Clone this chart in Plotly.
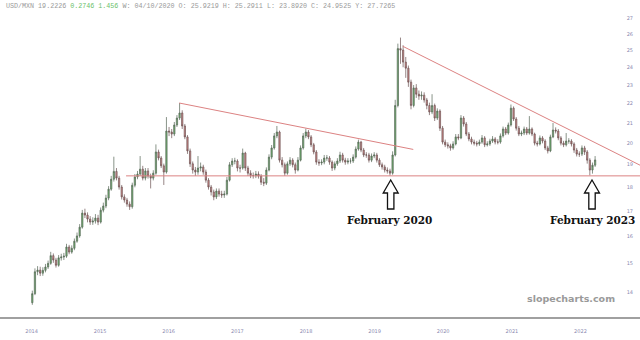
import plotly.graph_objects as go
import pandas as pd
import math

# ---------------- data (bi-weekly USD/MXN candles) -------------
start_date = "2014-01-05"
closes = [13.95, 14.70, 14.76, 14.65, 14.75, 14.87, 15.00, 15.28, 15.12, 14.93,
          15.20, 15.23, 15.26, 15.60, 15.41, 15.55, 15.82, 16.02, 16.36, 16.92,
          16.84, 16.68, 16.56, 16.60, 16.72, 16.56, 17.04, 17.21, 17.54, 17.92,
          18.35, 18.70, 18.40, 18.01, 17.59, 17.46, 17.29, 17.18, 18.09, 18.45,
          18.58, 18.80, 18.40, 18.72, 18.49, 18.40, 18.62, 19.59, 19.31, 18.95,
          18.67, 20.60, 20.55, 20.45, 20.90, 21.25, 21.51, 20.85, 20.31, 19.64,
          19.04, 18.76, 18.67, 18.85, 18.90, 18.67, 18.31, 18.01, 17.80, 17.59,
          17.84, 17.71, 17.67, 17.71, 18.31, 19.00, 19.17, 19.17, 18.85, 18.85,
          19.54, 18.85, 18.62, 18.51, 18.51, 18.58, 18.49, 18.22, 18.18, 18.76,
          19.35, 19.78, 20.36, 20.55, 19.21, 19.00, 18.62, 19.04, 19.21, 19.00,
          18.76, 19.21, 19.78, 20.36, 20.55, 20.31, 19.93, 19.59, 19.12, 19.08,
          19.12, 19.31, 19.31, 19.12, 18.85, 19.04, 19.17, 19.45, 19.21, 19.12,
          19.17, 19.17, 19.35, 19.73, 20.06, 19.68, 19.45, 19.45, 19.21, 19.40,
          19.45, 19.21, 19.00, 18.90, 18.76, 18.72, 18.62, 19.45, 21.90, 25.10,
          25.01, 24.30, 23.95, 23.16, 21.90, 22.84, 22.50, 22.40, 22.45, 22.19,
          21.90, 21.56, 21.90, 21.25, 21.61, 20.74, 20.06, 19.93, 19.88, 19.78,
          19.97, 20.31, 20.26, 21.25, 20.95, 20.45, 20.21, 20.06, 20.01, 19.97,
          20.06, 20.26, 19.93, 19.97, 20.11, 20.21, 20.06, 20.06, 20.36, 20.70,
          20.50, 20.90, 21.76, 21.20, 20.74, 20.45, 20.50, 20.70, 20.50, 20.70,
          20.45, 20.01, 19.97, 20.26, 20.11, 19.78, 19.64, 20.31, 20.65, 20.60,
          20.26, 20.01, 19.93, 20.11, 20.11, 19.97, 19.68, 19.49, 19.49, 19.78,
          19.59, 19.21, 18.76, 18.98, 19.22]
opens = [13.65, 13.95, 14.70, 14.76, 14.65, 14.75, 14.87, 15.00, 15.28, 15.12,
         14.93, 15.20, 15.23, 15.26, 15.60, 15.41, 15.55, 15.82, 16.02, 16.36,
         16.92, 16.84, 16.68, 16.56, 16.60, 16.72, 16.56, 17.04, 17.21, 17.54,
         17.92, 18.35, 18.70, 18.40, 18.01, 17.59, 17.46, 17.29, 17.18, 18.09,
         18.45, 18.58, 18.80, 18.40, 18.72, 18.49, 18.40, 18.62, 19.59, 19.31,
         18.95, 18.67, 20.60, 20.55, 20.45, 20.90, 21.25, 21.51, 20.85, 20.31,
         19.64, 19.04, 18.76, 18.67, 18.85, 18.90, 18.67, 18.31, 18.01, 17.80,
         17.59, 17.84, 17.71, 17.67, 17.71, 18.31, 19.00, 19.17, 19.17, 18.85,
         18.85, 19.54, 18.85, 18.62, 18.51, 18.51, 18.58, 18.49, 18.22, 18.18,
         18.76, 19.35, 19.78, 20.36, 20.55, 19.21, 19.00, 18.62, 19.04, 19.21,
         19.00, 18.76, 19.21, 19.78, 20.36, 20.55, 20.31, 19.93, 19.59, 19.12,
         19.08, 19.12, 19.31, 19.31, 19.12, 18.85, 19.04, 19.17, 19.45, 19.21,
         19.12, 19.17, 19.17, 19.35, 19.73, 20.06, 19.68, 19.45, 19.45, 19.21,
         19.40, 19.45, 19.21, 19.00, 18.90, 18.76, 18.72, 18.62, 19.45, 21.90,
         25.10, 25.01, 24.30, 23.95, 23.16, 21.90, 22.84, 22.50, 22.40, 22.45,
         22.19, 21.90, 21.56, 21.90, 21.25, 21.61, 20.74, 20.06, 19.93, 19.88,
         19.78, 19.97, 20.31, 20.26, 21.25, 20.95, 20.45, 20.21, 20.06, 20.01,
         19.97, 20.06, 20.26, 19.93, 19.97, 20.11, 20.21, 20.06, 20.06, 20.36,
         20.70, 20.50, 20.90, 21.76, 21.20, 20.74, 20.45, 20.50, 20.70, 20.50,
         20.70, 20.45, 20.01, 19.97, 20.26, 20.11, 19.78, 19.64, 20.31, 20.65,
         20.60, 20.26, 20.01, 19.93, 20.11, 20.11, 19.97, 19.68, 19.49, 19.49,
         19.78, 19.59, 19.21, 18.76, 18.98]
highs = [14.05, 14.82, 14.90, 14.88, 14.86, 14.98, 15.10, 15.42, 15.36, 15.20,
         15.30, 15.35, 15.38, 15.72, 15.68, 15.66, 15.92, 16.15, 16.48, 17.05,
         17.10, 16.95, 16.80, 16.75, 16.88, 16.85, 17.15, 17.35, 17.68, 18.05,
         18.50, 19.37, 18.85, 18.50, 18.10, 17.70, 17.55, 17.40, 18.20, 18.58,
         18.72, 19.40, 18.95, 18.85, 18.85, 18.60, 18.75, 19.95, 19.70, 19.40,
         19.05, 21.30, 20.80, 20.70, 21.05, 21.40, 22.03, 21.65, 20.95, 20.40,
         19.75, 19.15, 18.90, 19.40, 19.10, 19.00, 18.78, 18.40, 18.10, 17.90,
         17.95, 17.95, 17.85, 17.85, 18.45, 19.12, 19.30, 19.32, 19.25, 19.00,
         19.75, 19.60, 18.95, 18.75, 18.65, 18.72, 18.70, 18.58, 18.40, 18.88,
         19.48, 19.92, 20.50, 20.85, 20.62, 19.35, 19.10, 19.15, 19.35, 19.30,
         19.10, 19.35, 19.90, 20.50, 20.72, 20.65, 20.40, 20.02, 19.68, 19.25,
         19.25, 19.45, 19.45, 19.40, 19.20, 19.15, 19.30, 19.60, 19.55, 19.32,
         19.30, 19.30, 19.48, 19.85, 20.18, 20.12, 19.78, 19.58, 19.55, 19.52,
         19.58, 19.55, 19.30, 19.10, 19.00, 18.88, 18.82, 19.62, 22.20, 25.40,
         25.77, 25.30, 24.60, 24.10, 23.30, 23.00, 23.05, 22.70, 22.65, 22.60,
         22.30, 22.05, 22.50, 22.00, 21.75, 21.70, 20.85, 20.18, 20.05, 19.98,
         20.10, 20.45, 20.45, 21.40, 21.35, 21.05, 20.55, 20.32, 20.18, 20.12,
         20.18, 20.40, 20.35, 20.10, 20.22, 20.35, 20.30, 20.20, 20.48, 20.82,
         20.80, 21.02, 21.95, 21.85, 21.30, 20.85, 20.62, 20.82, 20.80, 21.35,
         20.78, 20.52, 20.12, 20.38, 20.35, 20.20, 19.88, 20.42, 21.00, 20.78,
         20.70, 20.35, 20.12, 20.50, 20.25, 20.20, 20.05, 19.78, 19.62, 19.90,
         19.88, 19.68, 19.30, 19.10, 19.40]
lows = [13.58, 13.90, 14.58, 14.55, 14.56, 14.68, 14.80, 14.95, 15.02, 14.85,
        14.88, 15.10, 15.12, 15.20, 15.33, 15.35, 15.48, 15.76, 15.95, 16.30,
        16.72, 16.55, 16.45, 16.45, 16.50, 16.44, 16.50, 16.95, 17.12, 17.45,
        17.85, 18.25, 18.30, 17.90, 17.48, 17.35, 17.18, 17.05, 17.10, 18.00,
        18.35, 18.50, 18.30, 18.30, 18.38, 17.95, 18.30, 18.55, 19.20, 18.85,
        18.10, 18.60, 20.35, 20.25, 20.35, 20.80, 21.15, 20.70, 20.20, 19.50,
        18.90, 18.60, 18.50, 18.55, 18.70, 18.55, 18.20, 17.90, 17.65, 17.45,
        17.50, 17.60, 17.55, 17.55, 17.65, 18.25, 18.90, 19.02, 18.70, 18.65,
        18.78, 18.72, 18.50, 18.40, 18.38, 18.40, 18.38, 18.10, 18.05, 18.10,
        18.70, 19.25, 19.70, 20.25, 19.10, 18.88, 18.50, 18.55, 18.95, 18.88,
        18.60, 18.70, 19.15, 19.70, 20.25, 20.20, 19.82, 19.48, 19.00, 18.95,
        18.98, 19.02, 19.18, 19.00, 18.72, 18.75, 18.95, 19.08, 19.10, 19.00,
        19.02, 19.05, 19.08, 19.28, 19.65, 19.58, 19.35, 19.32, 19.10, 19.12,
        19.30, 19.10, 18.90, 18.78, 18.65, 18.60, 18.51, 18.55, 19.38, 21.80,
        24.20, 24.00, 23.40, 22.90, 21.70, 21.80, 22.30, 22.20, 22.20, 22.05,
        21.70, 21.40, 21.45, 21.10, 21.15, 20.60, 19.95, 19.82, 19.75, 19.65,
        19.70, 19.90, 20.15, 20.20, 20.82, 20.35, 20.10, 19.95, 19.90, 19.85,
        19.88, 19.98, 19.82, 19.85, 19.88, 20.02, 19.95, 19.95, 19.98, 20.28,
        20.40, 20.42, 20.82, 21.10, 20.62, 20.35, 20.35, 20.40, 20.40, 20.42,
        20.35, 19.90, 19.85, 19.90, 20.00, 19.68, 19.52, 19.58, 20.25, 20.48,
        20.15, 19.90, 19.82, 19.85, 19.98, 19.85, 19.55, 19.38, 19.36, 19.40,
        19.45, 19.05, 18.52, 18.60, 18.90]

year_ticks = ["2014", "2015", "2016", "2017", "2018", "2019", "2020", "2021", "2022"]
price_ticks = [14, 15, 16, 17, 18, 19, 20, 21, 22, 23, 24, 25, 26, 27]

# hand-drawn lines of the original chart (date, price)
support_dates = ["2015-05-19", "2022-11-14"]
support_vals = [18.50, 18.50]
trend1_dates = ["2016-02-26", "2019-07-26"]
trend1_vals = [22.03, 19.71]
trend2_dates = ["2019-05-31", "2022-11-14"]
trend2_vals = [25.24, 18.98]

header_parts = ["USD/MXN 19.2226 ", "0.2746 1.456",
                " W: 04/10/2020 O: 25.9219 H: 25.2911 L: 23.8920 C: 24.9525 Y: 27.7265"]
labels = ["February 2020", "February 2023"]

# ---------------- figure --------------------------------------------------------------
W, H = 640, 340
PLOT_H = 317
dates = pd.date_range(start_date, periods=len(closes), freq="14D")

fig = go.Figure()
fig.add_trace(go.Candlestick(
    x=dates, open=opens, high=highs, low=lows, close=closes,
    increasing=dict(line=dict(color="#566656", width=0.7), fillcolor="#6fb56f"),
    decreasing=dict(line=dict(color="#6a5252", width=0.7), fillcolor="#d58a8a"),
    whiskerwidth=0, showlegend=False, hoverinfo="skip"))

line_style = dict(color="#dc8282", width=1)
for xs, ys in [(support_dates, support_vals), (trend1_dates, trend1_vals),
               (trend2_dates, trend2_vals)]:
    fig.add_trace(go.Scatter(x=xs, y=ys, mode="lines", line=line_style,
                             showlegend=False, hoverinfo="skip", cliponaxis=True))


def px(x, y):
    return x / W, (PLOT_H - y) / PLOT_H


def arrow_path(cx):
    pts = [(cx, 180), (cx + 7.5, 193), (cx + 3.2, 193), (cx + 3.2, 209),
           (cx - 3.2, 209), (cx - 3.2, 193), (cx - 7.5, 193)]
    s = ""
    for k, (x, y) in enumerate(pts):
        a, b = px(x, y)
        s += ("M" if k == 0 else "L") + f"{a:.5f},{b:.5f} "
    return s + "Z"


shapes = []
for cx in (390.7, 592.0):
    shapes.append(dict(type="path", xref="paper", yref="paper", path=arrow_path(cx),
                       line=dict(color="#111", width=1.3), fillcolor="white"))

annotations = []
for text, cx in zip(labels, (389.0, 592.5)):
    a, b = px(cx, 220)
    annotations.append(dict(xref="paper", yref="paper", x=a, y=b, text=f"<b>{text}</b>",
                            showarrow=False, xanchor="center", yanchor="middle",
                            font=dict(family="DejaVu Serif", size=10.5, color="#111")))
a, b = px(571, 298)
annotations.append(dict(xref="paper", yref="paper", x=a, y=b, text="<b>slopecharts.com</b>",
                        showarrow=False, xanchor="center", yanchor="middle",
                        font=dict(family="DejaVu Sans", size=9.5, color="#9a9a9a")))
a, b = px(4, 6)
header = (f"{header_parts[0]}<span style='color:#6cbf6c'>{header_parts[1]}</span>"
          f"{header_parts[2]}")
annotations.append(dict(xref="paper", yref="paper", x=a, y=b, text=header,
                        showarrow=False, xanchor="left", yanchor="middle",
                        font=dict(family="Liberation Mono", size=6.7, color="#9a9a9a")))

x_left = pd.Timestamp("2013-07-17")
x_right = pd.Timestamp("2022-11-14")

fig.update_layout(
    width=W, height=H, margin=dict(l=0, r=0, t=0, b=H - PLOT_H),
    paper_bgcolor="white", plot_bgcolor="white",
    shapes=shapes, annotations=annotations,
    xaxis=dict(type="date", range=[x_left, x_right], rangeslider=dict(visible=False),
               showgrid=False, zeroline=False, showline=True, linecolor="#a0a0a0",
               linewidth=1.5, tickvals=[f"{y}-01-01" for y in year_ticks],
               ticktext=year_ticks, ticks="", ticklabelstandoff=8,
               tickfont=dict(family="DejaVu Sans", size=5, color="#8a8ab0")),
    yaxis=dict(type="log", range=[math.log10(13.19), math.log10(28.2)], side="right",
               showgrid=False, zeroline=False, showline=False,
               tickvals=price_ticks, ticktext=[str(v) for v in price_ticks],
               ticks="", ticklabelposition="inside", ticklabelstandoff=4,
               tickfont=dict(family="DejaVu Sans", size=5, color="#8a8ab0")),
)

fig.write_html("out.html")
